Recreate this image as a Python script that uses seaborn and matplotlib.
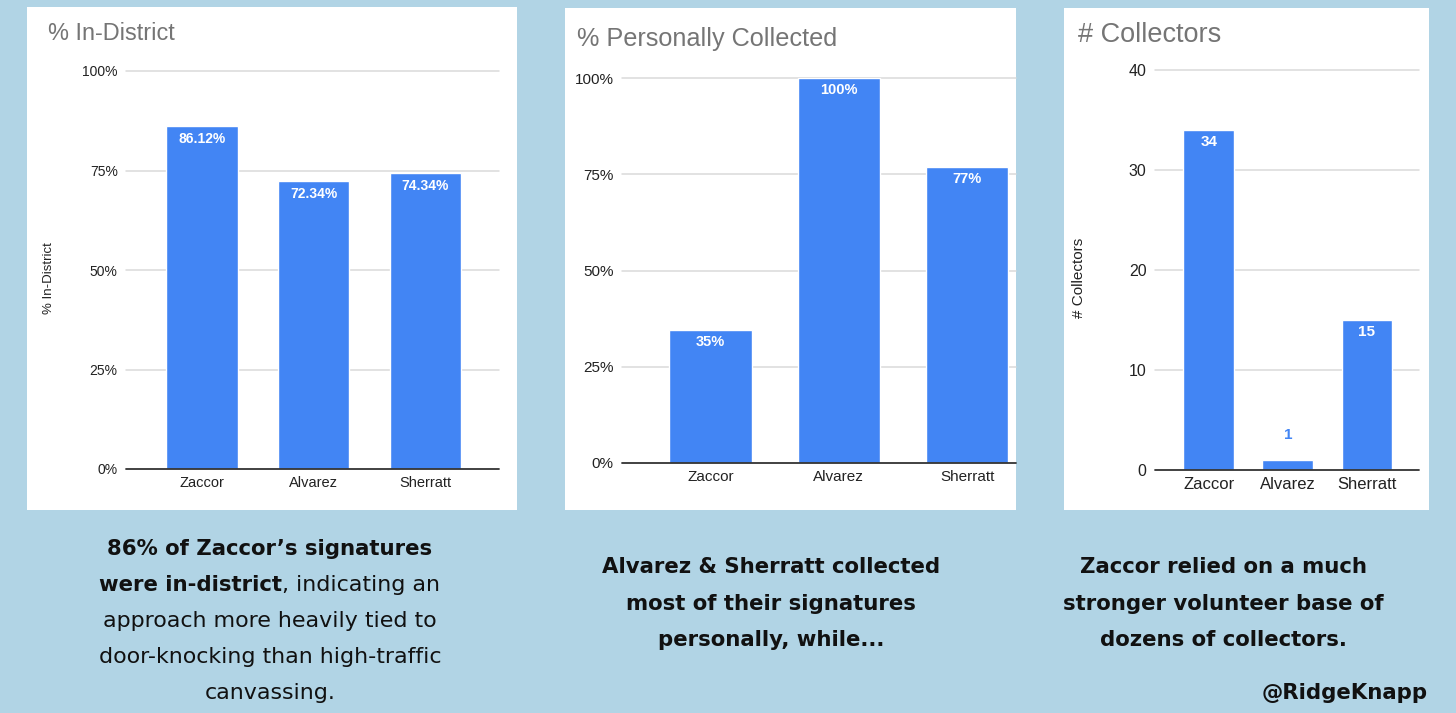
import matplotlib
matplotlib.use("Agg")
import matplotlib.pyplot as plt
import seaborn as sns
import pandas as pd
from matplotlib.patches import Rectangle

# data
categories = ["Zaccor", "Alvarez", "Sherratt"]
in_district = [86.12, 72.34, 74.34]
in_district_labels = ["86.12%", "72.34%", "74.34%"]
personally_collected = [34.6, 100, 77]
personally_labels = ["35%", "100%", "77%"]
collectors = [34, 1, 15]
collectors_labels = ["34", "1", "15"]

pct_ticks = [0, 25, 50, 75, 100]
pct_tick_labels = ["0%", "25%", "50%", "75%", "100%"]
count_ticks = [0, 10, 20, 30, 40]

W, H = 1456, 713
BG = "#b1d4e5"
BLUE = "#4285f4"
GRID = "#dadada"
TITLE_GREY = "#757575"

sns.set_theme(style="white")
plt.rcParams["font.family"] = ["Liberation Sans", "DejaVu Sans"]

fig = plt.figure(figsize=(W / 100, H / 100), dpi=100, facecolor=BG)


def box(x0, y0, x1, y1):
    # pixel box (top-left origin) -> figure fraction rect
    return [x0 / W, 1 - y1 / H, (x1 - x0) / W, (y1 - y0) / H]


# white chart cards
for x0, y0, x1, y1 in [(27, 7, 517, 510), (565, 8, 1016, 510), (1064, 8, 1429, 510)]:
    r = box(x0, y0, x1, y1)
    fig.patches.append(Rectangle((r[0], r[1]), r[2], r[3], transform=fig.transFigure,
                                 facecolor="white", edgecolor="none", zorder=-5))


def draw_panel(rect, values, labels, yticks, yticklabels, xlim, title, title_xy, title_size,
               tick_size, cat_size, lab_size, ylabel=None, ylabel_pos=None, ylabel_size=10):
    ax = fig.add_axes(box(*rect))
    ax.set_zorder(2)
    ax.set_facecolor("none")
    df = pd.DataFrame({"cand": categories, "val": values})
    sns.barplot(data=df, x="cand", y="val", color=BLUE, saturation=1, width=0.64, ax=ax, zorder=3)
    ax.set_ylim(yticks[0], yticks[-1])
    ax.set_xlim(*xlim)
    ax.set_yticks(yticks)
    ax.set_yticklabels(yticklabels)
    for y in yticks[1:]:
        ax.axhline(y, color=GRID, lw=1.1, zorder=1, clip_on=False)
    ax.axhline(0, color="#333333", lw=1.3, zorder=4, clip_on=False)
    for s in ax.spines.values():
        s.set_visible(False)
    ax.tick_params(axis="y", length=0, pad=6, labelsize=tick_size, labelcolor="#222222")
    ax.tick_params(axis="x", length=0, pad=5, labelsize=cat_size, labelcolor="#222222")
    ax.set_xlabel("")
    if ylabel:
        ax.set_ylabel(ylabel, fontsize=ylabel_size, color="#222222")
        ax.yaxis.set_label_coords(*ylabel_pos)
    else:
        ax.set_ylabel("")
    span = yticks[-1] - yticks[0]
    for i, (v, lab) in enumerate(zip(values, labels)):
        if v / span > 0.06:
            ax.annotate(lab, (i, v), xytext=(0, -9), textcoords="offset points",
                        ha="center", va="center", color="white", fontsize=lab_size,
                        fontweight="bold", zorder=5)
        else:
            ax.annotate(lab, (i, v), xytext=(0, 18), textcoords="offset points",
                        ha="center", va="center", color=BLUE, fontsize=lab_size,
                        fontweight="bold", zorder=5)
    fig.text(title_xy[0] / W, 1 - title_xy[1] / H, title, fontsize=title_size,
             color=TITLE_GREY, ha="left", va="center")
    return ax


draw_panel((126, 71, 499, 469), in_district, in_district_labels, pct_ticks, pct_tick_labels,
           (-0.68, 2.66), "% In-District", (48, 34), 16.9, 10, 10.5, 10,
           ylabel="% In-District", ylabel_pos=(-0.19, 0.48), ylabel_size=9.5)
draw_panel((622, 78, 1016, 463), personally_collected, personally_labels, pct_ticks,
           pct_tick_labels, (-0.69, 2.38), "% Personally Collected", (577, 39), 18.2,
           11, 11, 10.5)
draw_panel((1155, 70, 1419, 470), collectors, collectors_labels, count_ticks,
           [str(t) for t in count_ticks], (-0.68, 2.66), "# Collectors", (1078, 35), 19.5,
           11.5, 12, 11, ylabel="# Collectors", ylabel_pos=(-0.26, 0.48), ylabel_size=11)

# captions under the cards
CAP_FONT = ["DejaVu Sans"]
SIZES = {"bold": 15.3, "normal": 15.9}
renderer = fig.canvas.get_renderer()


def caption_line(cx, cy, parts):
    texts = []
    for txt, weight in parts:
        t = fig.text(0, 1 - cy / H, txt, fontsize=SIZES[weight], family=CAP_FONT,
                     fontweight=weight, color="#111111", ha="left", va="center")
        texts.append(t)
    widths = [t.get_window_extent(renderer).width for t in texts]
    x = cx - sum(widths) / 2
    for t, w in zip(texts, widths):
        t.set_x(x / W)
        x += w


left_caption = [
    [("86% of Zaccor’s signatures", "bold")],
    [("were in-district", "bold"), (", indicating an", "normal")],
    [("approach more heavily tied to", "normal")],
    [("door-knocking than high-traffic", "normal")],
    [("canvassing.", "normal")],
]
for k, line in enumerate(left_caption):
    caption_line(270, 549 + 36 * k, line)

mid_caption = ["Alvarez & Sherratt collected", "most of their signatures", "personally, while..."]
for k, line in enumerate(mid_caption):
    caption_line(771, 567 + 36.5 * k, [(line, "bold")])

right_caption = ["Zaccor relied on a much", "stronger volunteer base of", "dozens of collectors."]
for k, line in enumerate(right_caption):
    caption_line(1223, 567 + 36.5 * k, [(line, "bold")])

fig.text(1428 / W, 1 - 693 / H, "@RidgeKnapp", fontsize=SIZES["bold"], family=CAP_FONT,
         fontweight="bold", color="#111111", ha="right", va="center")

fig.savefig("out.png", dpi=100, facecolor=BG)
